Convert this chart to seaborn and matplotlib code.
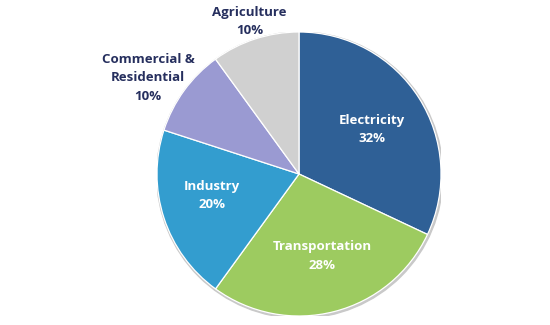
import matplotlib
matplotlib.use("Agg")
import matplotlib.pyplot as plt
import seaborn as sns
import numpy as np

sectors = ["Electricity", "Transportation", "Industry", "Commercial &\nResidential", "Agriculture"]
shares = [32, 28, 20, 10, 10]
colors = ["#2F6096", "#9DCB60", "#339DCF", "#9A9AD2", "#D0D0D0"]
inside = [True, True, True, False, False]
# label radius (in pie radii) and angular nudge (degrees) for each sector label
label_r = [0.60, 0.60, 0.63, 1.26, 1.13]
label_nudge = [-1.0, 1.5, -4.0, 3.5, 0.0]

sns.set_theme(style="white")
plt.rcParams["font.family"] = ["Open Sans", "DejaVu Sans"]

fig = plt.figure(figsize=(5.5, 3.25), dpi=100)
ax = fig.add_axes([157 / 550, 9 / 325, 284 / 550, 284 / 325])

# thin soft rim behind the pie
ax.add_patch(plt.Circle((0.006, -0.008), 1.008, color="#C9C9C9", zorder=0))

wedges, _ = ax.pie(
    shares,
    colors=colors,
    startangle=90,
    counterclock=False,
    radius=1.0,
    wedgeprops=dict(edgecolor="white", linewidth=0.9),
)

for w, name, val, ins, r, dn in zip(wedges, sectors, shares, inside, label_r, label_nudge):
    mid = np.deg2rad((w.theta1 + w.theta2) / 2 + dn)
    col = "white" if ins else "#262F5E"
    ax.text(r * np.cos(mid), r * np.sin(mid), f"{name}\n{val}%",
            ha="center", va="center", color=col, fontsize=9.5,
            fontweight="bold", linespacing=1.55)

ax.set_xlim(-1, 1)
ax.set_ylim(-1, 1)
ax.set_aspect("equal")
ax.axis("off")

fig.savefig("out.png", dpi=100)
